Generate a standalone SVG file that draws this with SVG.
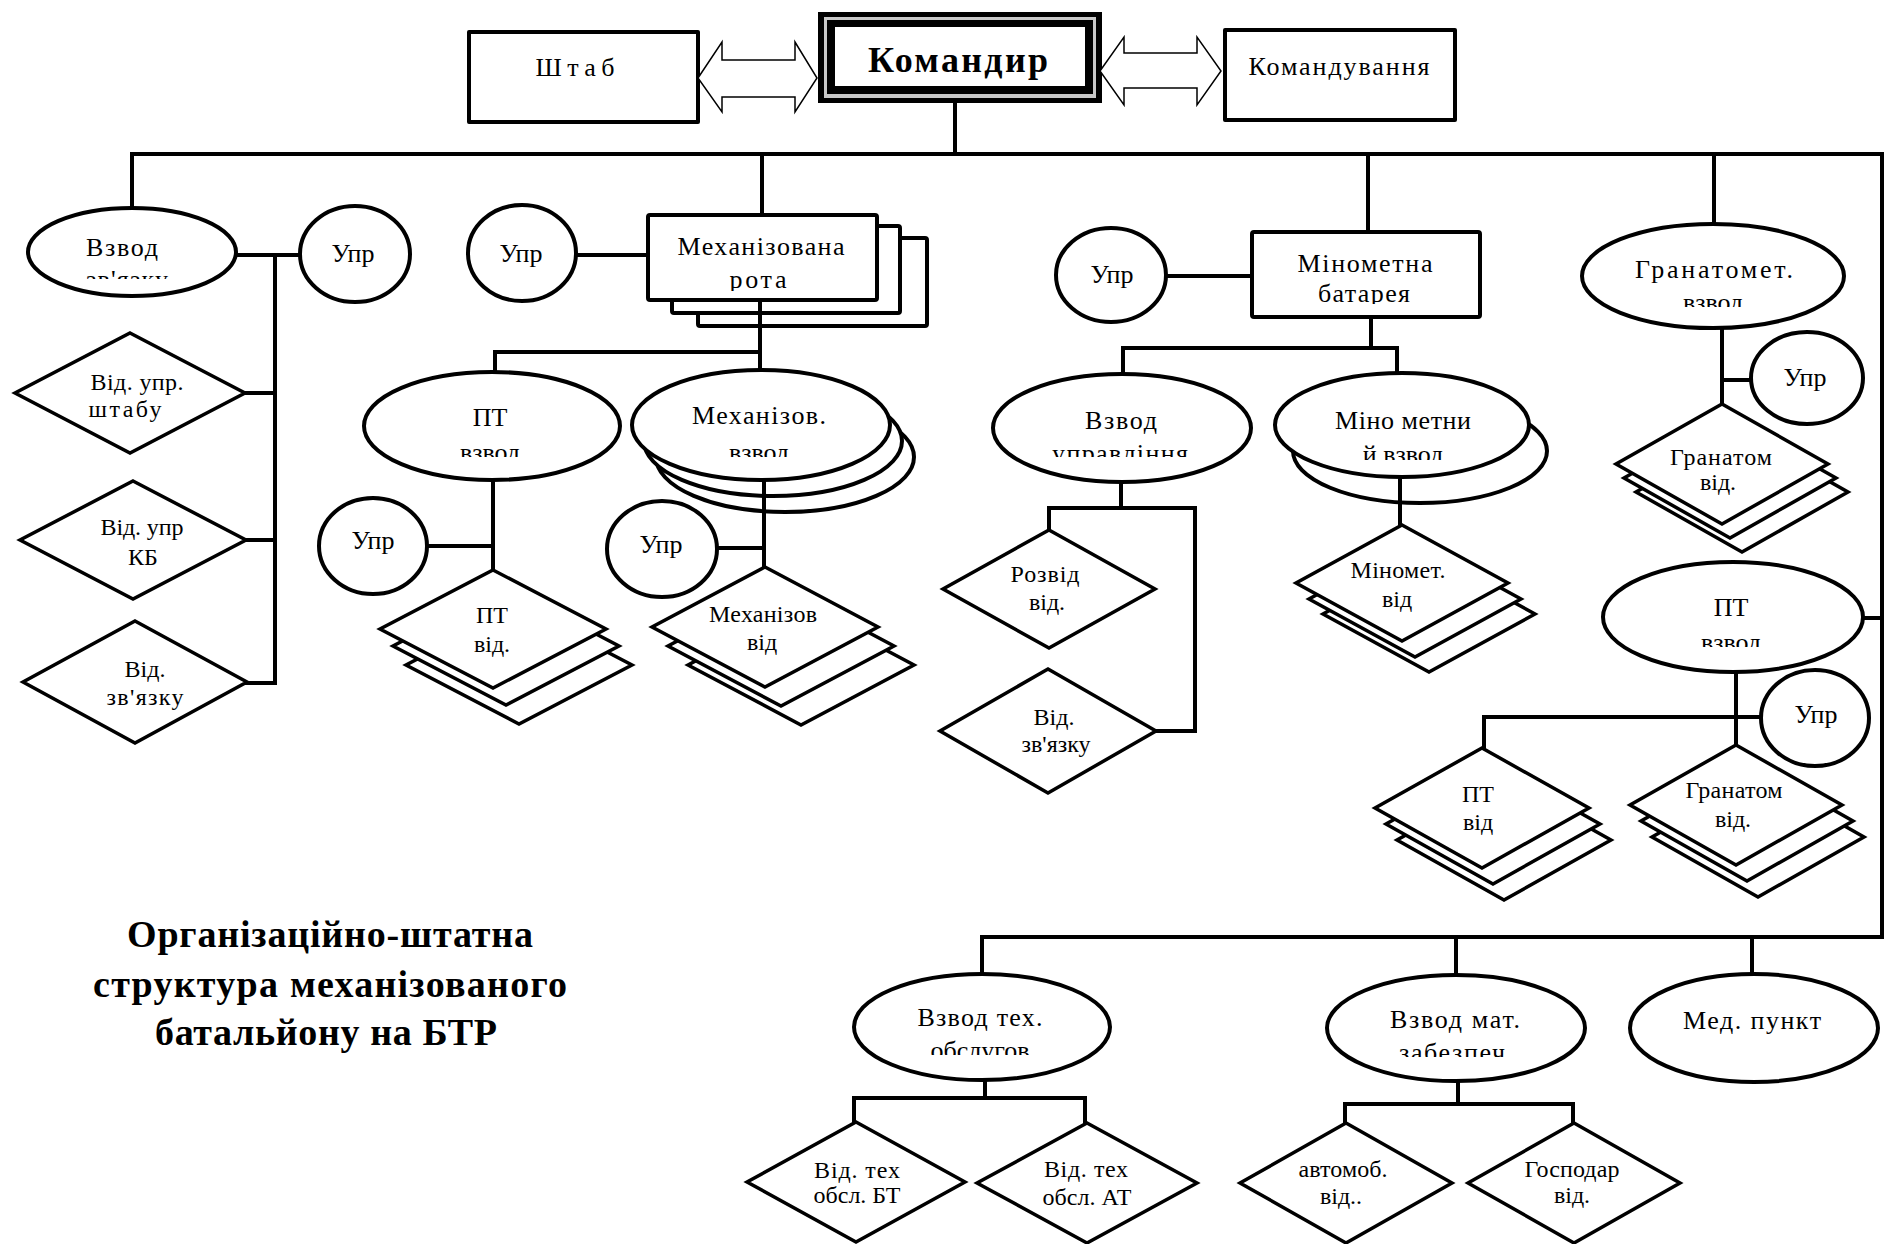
<svg xmlns="http://www.w3.org/2000/svg" width="1887" height="1244" viewBox="0 0 1887 1244">
<style>
.n{fill:#fff;stroke:#000;stroke-width:4;stroke-linejoin:round}
.d{fill:#fff;stroke:#000;stroke-width:3.5;stroke-linejoin:miter}
.c{fill:none;stroke:#000;stroke-width:4;stroke-linecap:square}
.ar{fill:#fff;stroke:#000;stroke-width:1.5}
text{font-family:"Liberation Serif","Times New Roman",serif;font-size:24px;text-anchor:middle;fill:#000}
text.L{font-size:26px}
text.ttl{font-weight:bold;font-size:38px}
text.kmd{font-weight:bold;font-size:36px}
</style>
<defs>
<clipPath id="k279"><rect x="0" y="0" width="1887" height="279"/></clipPath>
<clipPath id="k291"><rect x="0" y="0" width="1887" height="291"/></clipPath>
<clipPath id="k304"><rect x="0" y="0" width="1887" height="304"/></clipPath>
<clipPath id="k307"><rect x="0" y="0" width="1887" height="307"/></clipPath>
<clipPath id="k457"><rect x="0" y="0" width="1887" height="457"/></clipPath>
<clipPath id="k460"><rect x="0" y="0" width="1887" height="460"/></clipPath>
<clipPath id="k647"><rect x="0" y="0" width="1887" height="647"/></clipPath>
<clipPath id="k1055"><rect x="0" y="0" width="1887" height="1055"/></clipPath>
<clipPath id="k1057"><rect x="0" y="0" width="1887" height="1057"/></clipPath>
</defs>
<rect x="0" y="0" width="1887" height="1244" fill="#fff"/>

<g id="title">
<text class="ttl" x="330" y="947" textLength="406">Організаційно-штатна</text>
<text class="ttl" x="330" y="997" textLength="474">структура механізованого</text>
<text class="ttl" x="326" y="1045" textLength="342">батальйону на БТР</text>
</g>

<g id="shtab">
<rect class="n" x="469" y="32" width="229" height="90"/>
<text class="L" x="575" y="76" textLength="79">Штаб</text>
</g>
<g id="komandyr">
<rect x="818" y="12" width="284" height="91" fill="#000"/>
<rect x="824" y="17" width="272" height="81" fill="#c8c8c8"/>
<rect x="827" y="20" width="266" height="74" fill="#000"/>
<rect x="835" y="27" width="250" height="59" fill="#fff"/>
<text class="kmd" x="958" y="72" textLength="180">Командир</text>
</g>
<g id="komanduvannia">
<rect class="n" x="1225" y="30" width="230" height="90"/>
<text class="L" x="1339" y="75" textLength="181">Командування</text>
</g>

<g id="vzvod-zviazku">
<ellipse class="n" cx="132" cy="252" rx="104" ry="44"/>
<text class="L" x="122" y="256" textLength="72">Взвод</text>
<g clip-path="url(#k279)"><text class="L" x="127" y="288" textLength="82">зв'язку</text></g>
</g>
<g id="upr1">
<ellipse class="n" cx="355" cy="254" rx="55" ry="48"/>
<text class="L" x="353" y="262">Упр</text>
</g>
<g id="upr2">
<ellipse class="n" cx="522" cy="253" rx="54" ry="48"/>
<text class="L" x="521" y="262">Упр</text>
</g>
<g id="mekh-rota">
<rect class="n" x="698" y="238" width="229" height="88" rx="2"/>
<rect class="n" x="672" y="226" width="228" height="87" rx="2"/>
<rect class="n" x="648" y="215" width="229" height="85" rx="2"/>
<text class="L" x="761" y="255" textLength="167">Механізована</text>
<g clip-path="url(#k291)"><text class="L" x="758" y="288" textLength="57">рота</text></g>
</g>
<g id="upr3">
<ellipse class="n" cx="1111" cy="275" rx="55" ry="47"/>
<text class="L" x="1112" y="283">Упр</text>
</g>
<g id="minometna-bat">
<rect class="n" x="1252" y="232" width="228" height="85" rx="2"/>
<text class="L" x="1365" y="272" textLength="135">Мінометна</text>
<g clip-path="url(#k304)"><text class="L" x="1364" y="302" textLength="92">батарея</text></g>
</g>
<g id="granatomet-vzvod">
<ellipse class="n" cx="1713" cy="276" rx="131" ry="52"/>
<text class="L" x="1714" y="278" textLength="158">Гранатомет.</text>
<g clip-path="url(#k307)"><text class="L" x="1713" y="311">взвод</text></g>
</g>
<g id="upr4">
<ellipse class="n" cx="1807" cy="378" rx="56" ry="46"/>
<text class="L" x="1805" y="386">Упр</text>
</g>

<g id="vid-upr-shtabu">
<polygon class="d" points="130,333 245,393 130,453 15,393"/>
<text x="137" y="390" textLength="93">Від. упр.</text>
<text x="125" y="417" textLength="73">штабу</text>
</g>
<g id="vid-upr-kb">
<polygon class="d" points="133,481 246,540 133,599 20,540"/>
<text x="142" y="535" textLength="83">Від. упр</text>
<text x="143" y="565">КБ</text>
</g>
<g id="vid-zviazku1">
<polygon class="d" points="135,621 247,682 135,743 23,682"/>
<text x="145" y="677">Від.</text>
<text x="145" y="705" textLength="77">зв'язку</text>
</g>

<g id="pt-vzvod">
<ellipse class="n" cx="492" cy="426" rx="128" ry="54"/>
<text class="L" x="490" y="426">ПТ</text>
<g clip-path="url(#k457)"><text class="L" x="490" y="461">взвод</text></g>
</g>
<g id="mekh-vzvod">
<ellipse class="n" cx="785" cy="457" rx="129" ry="55"/>
<ellipse class="n" cx="773" cy="441" rx="129" ry="55"/>
<ellipse class="n" cx="761" cy="425" rx="129" ry="55"/>
<text class="L" x="759" y="424" textLength="134">Механізов.</text>
<g clip-path="url(#k457)"><text class="L" x="759" y="461">взвод</text></g>
</g>
<g id="upr5">
<ellipse class="n" cx="373" cy="546" rx="54" ry="48"/>
<text class="L" x="373" y="549">Упр</text>
</g>
<g id="upr6">
<ellipse class="n" cx="662" cy="549" rx="55" ry="48"/>
<text class="L" x="661" y="553">Упр</text>
</g>
<g id="pt-vid">
<polygon class="d" points="519,606 632,665 519,724 406,665"/>
<polygon class="d" points="506,587 619,646 506,705 393,646"/>
<polygon class="d" points="493,570 606,629 493,688 380,629"/>
<text x="492" y="623">ПТ</text>
<text x="492" y="652">від.</text>
</g>
<g id="mekh-vid">
<polygon class="d" points="801,605 914,665 801,725 688,665"/>
<polygon class="d" points="781,586 894,646 781,706 668,646"/>
<polygon class="d" points="765,567 878,627 765,687 652,627"/>
<text x="763" y="622" textLength="108">Механізов</text>
<text x="762" y="650">від</text>
</g>

<g id="vzvod-upravlinnia">
<ellipse class="n" cx="1122" cy="428" rx="129" ry="54"/>
<text class="L" x="1121" y="429" textLength="72">Взвод</text>
<g clip-path="url(#k457)"><text class="L" x="1120" y="462" textLength="136">управління</text></g>
</g>
<g id="minometnyi-vzvod">
<ellipse class="n" cx="1420" cy="451" rx="127" ry="52"/>
<ellipse class="n" cx="1402" cy="425" rx="127" ry="52"/>
<text class="L" x="1403" y="429" textLength="136">Міно метни</text>
<g clip-path="url(#k460)"><text class="L" x="1403" y="463">й взвод</text></g>
</g>
<g id="rozvid-vid">
<polygon class="d" points="1049,530 1155,589 1049,648 943,589"/>
<text x="1045" y="582" textLength="69">Розвід</text>
<text x="1047" y="610">від.</text>
</g>
<g id="vid-zviazku2">
<polygon class="d" points="1048,669 1156,731 1048,793 940,731"/>
<text x="1054" y="725">Від.</text>
<text x="1056" y="752" textLength="69">зв'язку</text>
</g>
<g id="minomet-vid">
<polygon class="d" points="1429,556 1535,614 1429,672 1323,614"/>
<polygon class="d" points="1415,541 1521,599 1415,657 1309,599"/>
<polygon class="d" points="1402,525 1508,583 1402,641 1296,583"/>
<text x="1398" y="578" textLength="95">Міномет.</text>
<text x="1397" y="607">від</text>
</g>
<g id="granatom-vid1">
<polygon class="d" points="1742,432 1848,492 1742,552 1636,492"/>
<polygon class="d" points="1730,418 1836,478 1730,538 1624,478"/>
<polygon class="d" points="1722,404 1828,464 1722,524 1616,464"/>
<text x="1721" y="465" textLength="102">Гранатом</text>
<text x="1718" y="490">від.</text>
</g>
<g id="pt-vzvod2">
<ellipse class="n" cx="1733" cy="617" rx="130" ry="55"/>
<text class="L" x="1731" y="616">ПТ</text>
<g clip-path="url(#k647)"><text class="L" x="1731" y="651">взвод</text></g>
</g>
<g id="upr7">
<ellipse class="n" cx="1815" cy="718" rx="54" ry="48"/>
<text class="L" x="1816" y="723">Упр</text>
</g>
<g id="pt-vid2">
<polygon class="d" points="1504,780 1611,840 1504,900 1397,840"/>
<polygon class="d" points="1493,764 1600,824 1493,884 1386,824"/>
<polygon class="d" points="1482,748 1589,808 1482,868 1375,808"/>
<text x="1478" y="802">ПТ</text>
<text x="1478" y="830">від</text>
</g>
<g id="granatom-vid2">
<polygon class="d" points="1758,777 1864,837 1758,897 1652,837"/>
<polygon class="d" points="1747,761 1853,821 1747,881 1641,821"/>
<polygon class="d" points="1736,745 1842,805 1736,865 1630,805"/>
<text x="1734" y="798" textLength="97">Гранатом</text>
<text x="1733" y="827">від.</text>
</g>

<g id="vzvod-tekh">
<ellipse class="n" cx="982" cy="1027" rx="128" ry="53"/>
<text class="L" x="980" y="1026" textLength="125">Взвод тех.</text>
<g clip-path="url(#k1055)"><text class="L" x="980" y="1059">обслугов</text></g>
</g>
<g id="vzvod-mat">
<ellipse class="n" cx="1456" cy="1028" rx="129" ry="53"/>
<text class="L" x="1455" y="1028" textLength="130">Взвод мат.</text>
<g clip-path="url(#k1057)"><text class="L" x="1452" y="1061" textLength="106">забезпеч</text></g>
</g>
<g id="med-punkt">
<ellipse class="n" cx="1754" cy="1028" rx="124" ry="54"/>
<text class="L" x="1752" y="1029" textLength="138">Мед. пункт</text>
</g>
<g id="vid-tekh-bt">
<polygon class="d" points="856,1122 965,1182 856,1242 747,1182"/>
<text x="857" y="1178" textLength="86">Від. тех</text>
<text x="857" y="1203" textLength="87">обсл. БТ</text>
</g>
<g id="vid-tekh-at">
<polygon class="d" points="1087,1123 1197,1183 1087,1243 977,1183"/>
<text x="1086" y="1177" textLength="84">Від. тех</text>
<text x="1087" y="1205" textLength="89">обсл. АТ</text>
</g>
<g id="avtomob-vid">
<polygon class="d" points="1346,1123 1452,1183 1346,1243 1240,1183"/>
<text x="1343" y="1177" textLength="89">автомоб.</text>
<text x="1341" y="1204">від..</text>
</g>
<g id="hospodar-vid">
<polygon class="d" points="1574,1123 1680,1183 1574,1243 1468,1183"/>
<text x="1572" y="1177" textLength="95">Господар</text>
<text x="1572" y="1203">від.</text>
</g>

<g id="connectors">
<polygon class="ar" points="698,78 722,42 722,60 795,60 795,42 817,78 795,112 795,97 722,97 722,112"/>
<polygon class="ar" points="1100,71 1124,37 1124,53 1197,53 1197,37 1221,71 1197,105 1197,88 1124,88 1124,105"/>
<path class="c" d="M955,103 V154"/>
<path class="c" d="M132,154 H1882 V937 H982"/>
<path class="c" d="M132,154 V208"/>
<path class="c" d="M762,154 V215"/>
<path class="c" d="M1368,154 V232"/>
<path class="c" d="M1714,154 V224"/>
<path class="c" d="M236,255 H300"/>
<path class="c" d="M275,255 V683"/>
<path class="c" d="M245,393 H275 M246,540 H275 M247,683 H275"/>
<path class="c" d="M576,255 H648"/>
<path class="c" d="M760,300 V370 M495,352 H760 M495,352 V372"/>
<path class="c" d="M493,480 V570 M427,546 H493"/>
<path class="c" d="M764,480 V567 M717,548 H764"/>
<path class="c" d="M1166,276 H1252"/>
<path class="c" d="M1371,317 V348 M1123,348 H1397 M1123,348 V374 M1397,348 V373"/>
<path class="c" d="M1121,482 V508 M1049,508 H1195 M1049,508 V530 M1195,508 V731 H1156"/>
<path class="c" d="M1400,477 V525"/>
<path class="c" d="M1722,328 V404 M1722,380 H1751"/>
<path class="c" d="M1863,618 H1882"/>
<path class="c" d="M1736,672 V745 M1484,717 H1761 M1484,717 V748"/>
<path class="c" d="M982,937 V974 M1456,937 V975 M1752,937 V974"/>
<path class="c" d="M985,1080 V1098 M854,1098 H1085 M854,1098 V1122 M1085,1098 V1123"/>
<path class="c" d="M1458,1081 V1104 M1345,1104 H1573 M1345,1104 V1123 M1573,1104 V1123"/>
</g>
</svg>
